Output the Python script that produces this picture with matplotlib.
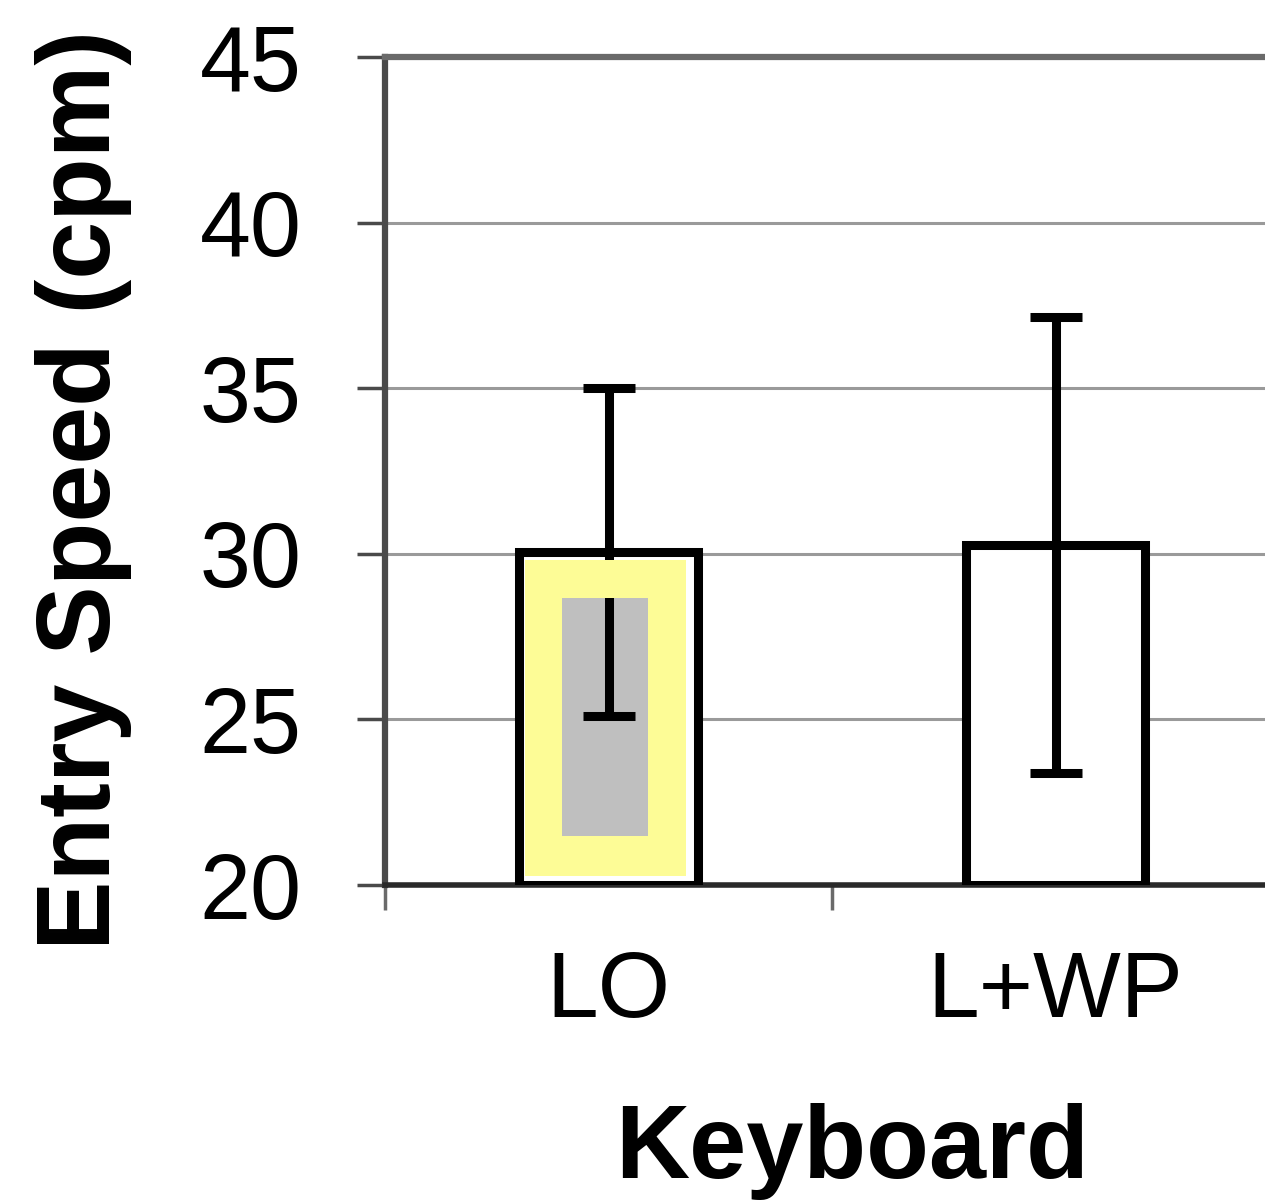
import matplotlib
matplotlib.use("Agg")
import matplotlib.pyplot as plt
from matplotlib.patches import Rectangle

# ---- data ----
categories = ["LO", "L+WP"]
means = [30.05, 30.27]
err = [4.95, 6.88]
y_ticks = [20, 25, 30, 35, 40, 45]
y_label = "Entry Speed (cpm)"
x_label = "Keyboard"

# ---- style / layout ----
W, H, DPI = 1265, 1200, 100
plt.rcParams["font.family"] = ["Liberation Sans", "DejaVu Sans"]
fig = plt.figure(figsize=(W / DPI, H / DPI), dpi=DPI)
left_px, right_px, top_px, bot_px = 385, 1265, 57, 885
ax = fig.add_axes([left_px / W, 1 - bot_px / H, (right_px - left_px) / W, (bot_px - top_px) / H])

cat_px = 447.0
xpos = [i + 0.5 for i in range(len(categories))]
bar_w = 0.4
ymin = 20
heights = [m - ymin for m in means]

ax.bar(xpos, heights, bottom=ymin, width=bar_w, color="white", edgecolor="black",
       linewidth=6.5, zorder=3)
eb_kw = dict(fmt="none", ecolor="black", elinewidth=6.5, capsize=19, capthick=6.5)
ax.errorbar(xpos, means, yerr=err, zorder=4, **eb_kw)

# highlight overlay on first bar (yellow frame with gray inner box)
yellow = Rectangle((0.313, 20.27), 0.360, 9.54, facecolor="#FDFC96", edgecolor="none", zorder=5)
gray = Rectangle((0.396, 21.48), 0.192, 7.19, facecolor="#BFBFBF", edgecolor="none", zorder=6)
ax.add_patch(yellow)
ax.add_patch(gray)
eb2 = ax.errorbar(xpos[:1], means[:1], yerr=err[:1], zorder=7, **eb_kw)
for art in eb2.lines[1] + eb2.lines[2]:
    art.set_clip_path(gray)

# grid
for yv in y_ticks[1:-1]:
    ax.axhline(yv, color="#9a9a9a", linewidth=2.2, zorder=1)

ax.spines["right"].set_visible(False)
ax.spines["top"].set_color("#6a6a6a")
ax.spines["top"].set_linewidth(4.5)
ax.spines["left"].set_color("#4a4a4a")
ax.spines["left"].set_linewidth(4.5)
ax.spines["bottom"].set_color("#2a2a2a")
ax.spines["bottom"].set_linewidth(4)

ax.set_yticks(y_ticks)
ax.set_yticklabels([str(v) for v in y_ticks])
ax.tick_params(axis="y", length=20, width=2.5, color="#4a4a4a", pad=40, labelsize=66)

ax.set_xticks([0, 1, 2])
ax.set_xticklabels([])
ax.tick_params(axis="x", which="major", length=18, width=2.5, color="#6a6a6a", direction="out")
ax.set_xticks(xpos, minor=True)
ax.set_xticklabels(categories, minor=True)
ax.tick_params(axis="x", which="minor", length=0, pad=47, labelsize=67)

ax.set_xlim(0, (right_px - left_px) / cat_px)
ax.set_ylim(20, 45)

fig.text(84 / W, 1 - 490 / H, y_label, rotation=90, ha="center", va="center",
         fontsize=75, fontweight="bold")
fig.text(852 / W, 1 - 1178 / H, x_label, ha="center", va="baseline",
         fontsize=74, fontweight="bold")

fig.savefig("out.png", dpi=DPI)
